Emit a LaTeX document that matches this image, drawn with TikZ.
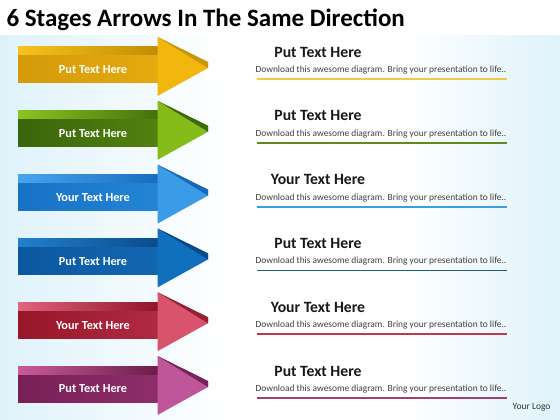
\documentclass[tikz,border=0pt]{standalone}
\usepackage{fontspec}
\setmainfont{Carlito}
\usetikzlibrary{positioning}

\definecolor{bgblue}{HTML}{DFF2FB}
% gold
\definecolor{goldfrontL}{HTML}{D59A0A}
\definecolor{goldfrontR}{HTML}{E4AA0E}
\definecolor{goldstripL}{HTML}{F6C21A}
\definecolor{goldstripR}{HTML}{C48C06}
\definecolor{goldhead}{HTML}{F2B70E}
\definecolor{goldbevel}{HTML}{C8960A}
\definecolor{goldline}{HTML}{F0C84A}
% green
\definecolor{leaffrontL}{HTML}{3A650C}
\definecolor{leaffrontR}{HTML}{52820F}
\definecolor{leafstripL}{HTML}{8CC420}
\definecolor{leafstripR}{HTML}{46700E}
\definecolor{leafhead}{HTML}{86BC1A}
\definecolor{leafbevel}{HTML}{3E680C}
\definecolor{leafline}{HTML}{5C8C1E}
% light blue
\definecolor{skyfrontL}{HTML}{1772C6}
\definecolor{skyfrontR}{HTML}{2384D6}
\definecolor{skystripL}{HTML}{46A6EC}
\definecolor{skystripR}{HTML}{1A6CBE}
\definecolor{skyhead}{HTML}{3A9CE6}
\definecolor{skybevel}{HTML}{1868B8}
\definecolor{skyline}{HTML}{3A9EE0}
% dark blue
\definecolor{seafrontL}{HTML}{0C58A0}
\definecolor{seafrontR}{HTML}{1266B0}
\definecolor{seastripL}{HTML}{2280CC}
\definecolor{seastripR}{HTML}{0A4C8C}
\definecolor{seahead}{HTML}{1070BE}
\definecolor{seabevel}{HTML}{0A4A88}
\definecolor{sealine}{HTML}{1E5A86}
% red
\definecolor{rubyfrontL}{HTML}{981628}
\definecolor{rubyfrontR}{HTML}{B02A42}
\definecolor{rubystripL}{HTML}{E0647C}
\definecolor{rubystripR}{HTML}{8E1626}
\definecolor{rubyhead}{HTML}{D8546C}
\definecolor{rubybevel}{HTML}{962034}
\definecolor{rubyline}{HTML}{C03850}
% purple
\definecolor{plumfrontL}{HTML}{782056}
\definecolor{plumfrontR}{HTML}{8E2E6A}
\definecolor{plumstripL}{HTML}{C85C9A}
\definecolor{plumstripR}{HTML}{6C1C4A}
\definecolor{plumhead}{HTML}{C0569A}
\definecolor{plumbevel}{HTML}{782458}
\definecolor{plumline}{HTML}{A04070}

\tikzset{
  stagelabel/.style={text=white, font=\bfseries\fontsize{12.3}{14}\selectfont},
  headtext/.style={text=black!90, font=\bfseries\fontsize{15.7}{18}\selectfont},
  desctext/.style={text=black!75, font=\fontsize{9.4}{11}\selectfont},
  underline/.style={line width=1.8pt},
}

\begin{document}
\begin{tikzpicture}[x=1pt,y=-1pt]
        \useasboundingbox (0,0) rectangle (560,420);

        % Background
        \fill[white] (0,0) rectangle (560,420);
        \shade[left color=bgblue, right color=white] (0,36) rectangle (230,420);
        \shade[left color=white, right color=bgblue] (400,36) rectangle (560,420);

        % Title
        \node[anchor=west, font=\bfseries\fontsize{25}{29}\selectfont] (title) at (3,20)
          {6 Stages Arrows In The Same Direction};

        % Stages
        \foreach \i/\c/\lab/\ttl in {0/gold/Put Text Here/Put Text Here,
                                     1/leaf/Put Text Here/Put Text Here,
                                     2/sky/Your Text Here/Your Text Here,
                                     3/sea/Put Text Here/Put Text Here,
                                     4/ruby/Your Text Here/Your Text Here,
                                     5/plum/Put Text Here/Put Text Here}
        {
          \pgfmathsetmacro\dy{\i*63.8}
          % arrow body
          \shade[left color=\c stripL, right color=\c stripR]
            (18,47+\dy) rectangle (158,56+\dy);
          \shade[left color=\c frontL, right color=\c frontR]
            (18,56+\dy) rectangle (158,83+\dy);
          % arrow head
          \fill[\c head] (157.5,37+\dy) -- (208,62+\dy) -- (208,68+\dy)
            -- (157.5,96+\dy) -- cycle;
          \fill[\c bevel] (157.5,37+\dy) -- (208,62+\dy) -- (208,68+\dy) -- cycle;
          \node[stagelabel] (label_\i) at (93,70+\dy) {\lab};

          % text block
          \node[headtext] (head_\i) at (318,52+\dy) {\ttl};
          \node[desctext] (desc_\i) at (381,70+\dy)
            {Download this awesome diagram. Bring your presentation to life..};
          \coordinate (line_\i_a) at (257,79+\dy);
          \coordinate (line_\i_b) at (507,79+\dy);
          \draw[underline, \c line] (line_\i_a) -- (line_\i_b);
        }

        % Logo
        \node[anchor=east, text=black!80, font=\fontsize{9.5}{11}\selectfont] (logo) at (554,407)
          {Your Logo};
      \end{tikzpicture}
\end{document}
